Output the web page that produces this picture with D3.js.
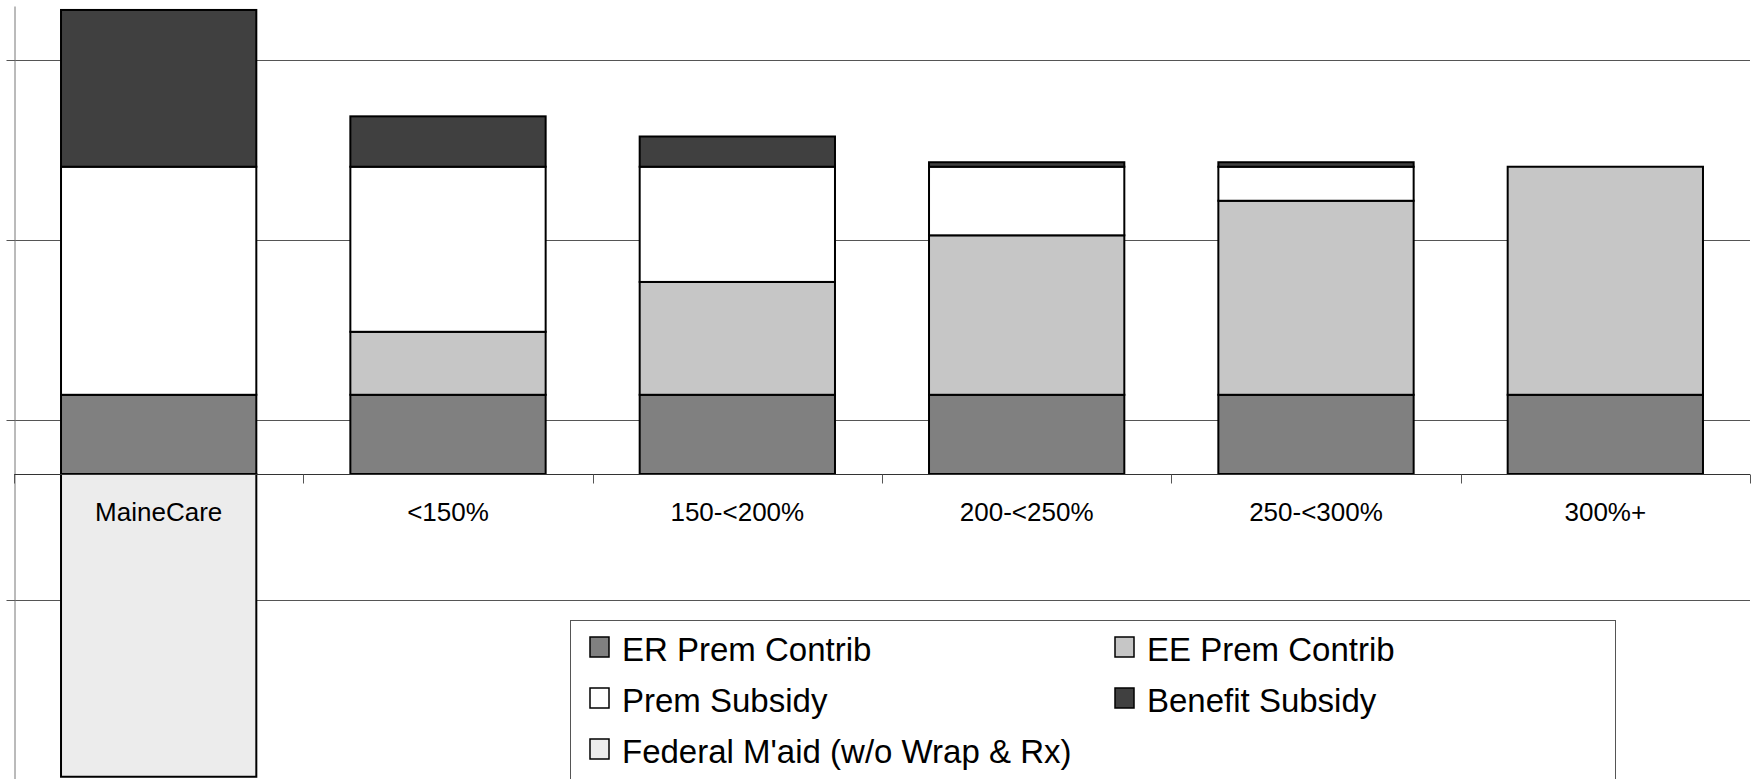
<!DOCTYPE html>
<html>
<head>
<meta charset="utf-8">
<script src="https://cdn.jsdelivr.net/npm/d3@7"></script>
<style>
  html, body { margin: 0; padding: 0; background: #fff; }
  svg { display: block; font-family: "Liberation Sans", Arial, sans-serif; }
</style>
</head>
<body>
<svg id="chart" width="1753" height="779"></svg>
<script>
// categories and series (stacked, arbitrary $ units)
var categories = ['MaineCare', '<150%', '150-<200%', '200-<250%', '250-<300%', '300%+']
var erPrem = [440, 440, 440, 440, 440, 440]
var eePrem = [0, 350, 627, 886, 1078, 1267]
var premSubsidy = [1267, 917, 640, 381, 189, 0]
var benefitSubsidy = [871, 280, 168, 25, 25, 0]
var federalMaid = [-1682, 0, 0, 0, 0, 0]
var seriesNames = ['ER Prem Contrib', 'EE Prem Contrib', 'Prem Subsidy', 'Benefit Subsidy', 'Federal M\'aid (w/o Wrap & Rx)']
var seriesColors = ['#808080', '#c6c6c6', '#ffffff', '#404040', '#ececec']
var gridValues = [-1700, -700, 300, 1300, 2300]

var svg = d3.select('#chart')
var left = 14
var right = 1750

var rows = categories.map(function (c, i) {
  return {
    cat: c,
    s0: erPrem[i],
    s1: eePrem[i],
    s2: premSubsidy[i],
    s3: benefitSubsidy[i],
    s4: federalMaid[i]
  }
})
var keys = ['s0', 's1', 's2', 's3', 's4']

var stacked = d3.stack()
  .keys(keys)
  .offset(d3.stackOffsetDiverging)(rows)

var x = d3.scaleBand()
  .domain(categories)
  .range([left, right])
  .padding(0)

var y = d3.scaleLinear()
  .domain([-1700, 2600])
  .range([780, 6])

var barW = x.bandwidth() * 0.675

// gridlines
svg.append('g')
  .selectAll('line')
  .data(gridValues)
  .enter().append('line')
  .attr('x1', left)
  .attr('x2', right)
  .attr('y1', function (d) { return Math.round(y(d)) + 0.5 })
  .attr('y2', function (d) { return Math.round(y(d)) + 0.5 })
  .attr('stroke', '#555')
  .attr('stroke-width', 1)

// y axis
var yAxis = svg.append('g')
  .attr('transform', 'translate(' + (left + 0.5) + ',0)')
  .call(d3.axisLeft(y).tickValues(gridValues).tickSize(8).tickSizeOuter(0).tickFormat(''))
yAxis.select('.domain').attr('stroke', '#777')
yAxis.selectAll('.tick line').attr('stroke', '#555')

// bars
var layers = svg.append('g')
  .selectAll('g')
  .data(stacked)
  .enter().append('g')
  .attr('fill', function (d, i) { return seriesColors[i] })

layers.selectAll('rect')
  .data(function (d) { return d.filter(function (p) { return p[1] !== p[0] }) })
  .enter().append('rect')
  .attr('x', function (d) { return x(d.data.cat) + (x.bandwidth() - barW) / 2 })
  .attr('width', barW)
  .attr('y', function (d) { return y(Math.max(d[0], d[1])) })
  .attr('height', function (d) { return Math.abs(y(d[0]) - y(d[1])) })
  .attr('stroke', '#000')
  .attr('stroke-width', 2)

// x axis line + boundary ticks
var zeroY = Math.round(y(0)) + 0.5
svg.append('line')
  .attr('x1', left).attr('x2', right)
  .attr('y1', zeroY).attr('y2', zeroY)
  .attr('stroke', '#333')
svg.append('g')
  .selectAll('line')
  .data(categories.map(function (c) { return x(c) }).concat([right]))
  .enter().append('line')
  .attr('x1', function (d) { return Math.round(d) + 0.5 })
  .attr('x2', function (d) { return Math.round(d) + 0.5 })
  .attr('y1', zeroY)
  .attr('y2', zeroY + 9)
  .attr('stroke', '#555')

// category labels
svg.append('g')
  .selectAll('text')
  .data(categories)
  .enter().append('text')
  .attr('x', function (d) { return x(d) + x.bandwidth() / 2 })
  .attr('y', 521)
  .attr('text-anchor', 'middle')
  .attr('font-size', 26)
  .attr('fill', '#000')
  .text(function (d) { return d })

// legend
var legend = svg.append('g')
legend.append('rect')
  .attr('x', 570.5).attr('y', 620.5)
  .attr('width', 1045).attr('height', 200)
  .attr('fill', '#fff')
  .attr('stroke', '#555')

var legendPos = [[590, 637], [1115, 637], [590, 688], [1115, 688], [590, 739]]
var items = legend.selectAll('g.item')
  .data(seriesNames)
  .enter().append('g')
  .attr('class', 'item')
  .attr('transform', function (d, i) { return 'translate(' + legendPos[i][0] + ',' + legendPos[i][1] + ')' })

items.append('rect')
  .attr('width', 19).attr('height', 20)
  .attr('fill', function (d, i) { return seriesColors[i] })
  .attr('stroke', '#000')
  .attr('stroke-width', 1.5)

items.append('text')
  .attr('x', 32)
  .attr('y', 24)
  .attr('font-size', 33)
  .attr('fill', '#000')
  .text(function (d) { return d })
</script>
</body>
</html>
